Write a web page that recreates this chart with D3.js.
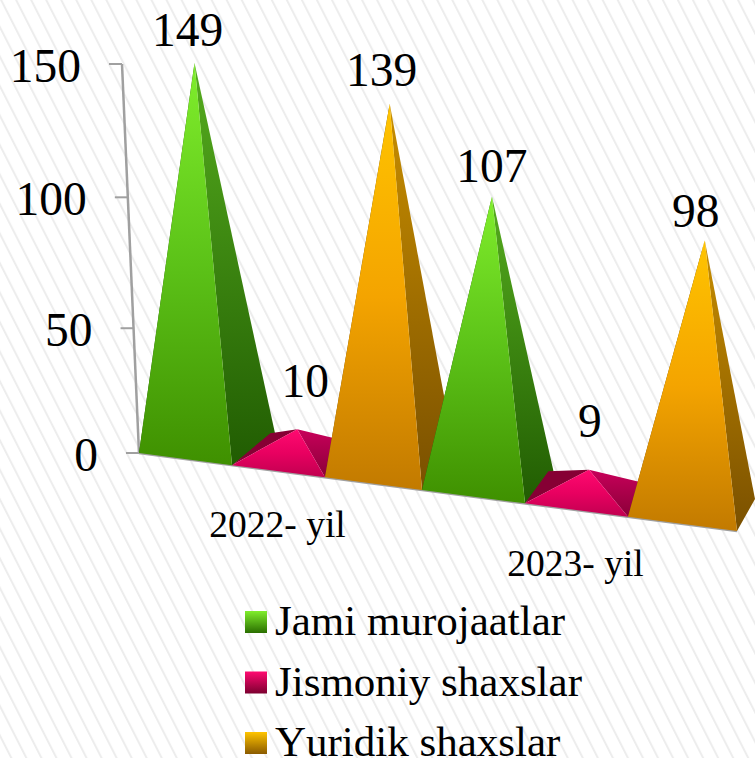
<!DOCTYPE html>
<html>
<head>
<meta charset="utf-8">
<script src="https://cdn.jsdelivr.net/npm/d3@7"></script>
<style>
  html, body { margin: 0; padding: 0; background: #fff; overflow: hidden; }
  svg { display: block; }
  text { font-family: "Liberation Serif", serif; fill: #000; }
  .legend text { font-kerning: none; }
</style>
</head>
<body>
<svg width="755" height="758"></svg>
<script>
const categories = ['2022- yil', '2023- yil']
const seriesNames = ['Jami murojaatlar', 'Jismoniy shaxslar', 'Yuridik shaxslar']
const seriesValues = [
  [149, 107],
  [10, 9],
  [139, 98],
]
const tickValues = [0, 50, 100, 150]

const palette = [
  { top: '#80ee2c', mid: '#5cc218', bottom: '#3f9000', sideTop: '#55ac1e', sideBottom: '#215c02', left: '#1d5202', legendBottom: '#2a6e00' },
  { top: '#ff0a70', mid: '#e80060', bottom: '#c00050', sideTop: '#c8005a', sideBottom: '#8a0038', left: '#860034', legendBottom: '#7c0030' },
  { top: '#ffc400', mid: '#f4a400', bottom: '#c27a00', sideTop: '#c88e00', sideBottom: '#7a5000', left: '#6e4800', legendBottom: '#8a5a00' },
]

const svg = d3.select('svg')
const defs = svg.append('defs')

// background stripes
const stripes = defs.append('pattern').
  attr('id', 'stripes').
  attr('patternUnits', 'userSpaceOnUse').
  attr('width', 13.4).
  attr('height', 13.4).
  attr('patternTransform', 'rotate(-27)')
stripes.append('rect').attr('width', 13.4).attr('height', 13.4).attr('fill', '#fff')
stripes.append('rect').attr('width', 2).attr('height', 13.4).attr('fill', '#ededed')

svg.append('rect').
  attr('width', 755).
  attr('height', 758).
  attr('fill', 'url(#stripes)')

function gradient(id, stops) {
  const g = defs.append('linearGradient').
    attr('id', id).
    attr('x1', 0).attr('y1', 0).attr('x2', 0).attr('y2', 1)
  stops.forEach((color, i) => {
    g.append('stop').attr('offset', i / (stops.length - 1)).attr('stop-color', color)
  })
}
palette.forEach((c, i) => {
  gradient(`front${i}`, [c.top, c.mid, c.bottom])
  gradient(`side${i}`, [c.sideTop, c.sideBottom])
  gradient(`legend${i}`, [c.top, c.legendBottom])
})

// floor runs downhill to the right, slots widen a little with perspective
const xSlot = d3.scaleLinear().domain([0, 2, 3, 5, 6]).range([139, 325, 422, 628, 737])
const floorY = d3.scaleLinear().domain([139, 737]).range([453, 531])
const depthX = d3.scaleLinear().domain([232, 737]).range([43, 18])
const depthY = -32
const y = d3.scalePow().exponent(1.035).domain([0, 150]).range([453, 64])
const unit = d3.scaleLinear().domain([207, 691]).range([2.55, 2.73])
// tall apexes drift away from the centre of the view
const lean = d3.scaleLinear().domain([400, 1400]).range([0, 0.17])

const bars = []
categories.forEach((cat, c) => {
  seriesNames.forEach((name, s) => {
    bars.push({ slot: c * 3 + s, series: s, value: seriesValues[s][c] })
  })
})

const labelNudge = [[-7, -17], [8, -32], [-8, -18], [0, -15], [1, -33], [-9, -13]]

function geometry(d) {
  const fl = [xSlot(d.slot), floorY(xSlot(d.slot))]
  const fr = [xSlot(d.slot + 1), floorY(xSlot(d.slot + 1))]
  const dx = depthX(fr[0])
  const br = [fr[0] + dx, fr[1] + depthY]
  const bl = [fl[0] + dx, fl[1] + depthY]
  const cx = (fl[0] + br[0]) / 2
  const cy = (fl[1] + br[1]) / 2
  const h = d.value * unit(cx)
  const apex = [cx + lean(cx) * h, cy - h]
  return { fl, fr, br, bl, apex }
}

const closed = d3.line().curve(d3.curveLinearClosed)

// axis: the wall edge leans, so the ticks follow it
const axisX = d3.scaleLinear().domain([y(0), y(150)]).range([139, 122])
const axisG = svg.append('g')
axisG.append('line').
  attr('x1', axisX(y(0))).attr('y1', y(0)).
  attr('x2', axisX(y(150))).attr('y2', y(150)).
  attr('stroke', '#a0a0a0').attr('stroke-width', 2.5)
const ticks = axisG.selectAll('g').data(tickValues).enter().append('g')
ticks.append('line').
  attr('x1', d => axisX(y(d)) - 13).attr('x2', d => axisX(y(d))).
  attr('y1', d => y(d)).attr('y2', d => y(d)).
  attr('stroke', '#a0a0a0').attr('stroke-width', 2)
ticks.append('text').
  attr('x', d => axisX(y(d)) - 41).
  attr('y', d => y(d) + 18).
  attr('text-anchor', 'end').
  attr('font-size', 47.5).
  text(d => d)

// floor edge
svg.append('line').
  attr('x1', xSlot(0)).attr('y1', floorY(xSlot(0))).
  attr('x2', xSlot(6)).attr('y2', floorY(xSlot(6))).
  attr('stroke', '#a0a0a0').attr('stroke-width', 2.5)

// pyramids, painted left to right
const barG = svg.selectAll('g.bar').data(bars).enter().append('g').attr('class', 'bar')
barG.append('path').
  attr('d', d => { const g = geometry(d); return closed([g.fl, g.bl, g.apex]) }).
  attr('fill', d => palette[d.series].left)
barG.append('path').
  attr('d', d => { const g = geometry(d); return closed([g.fr, g.br, g.apex]) }).
  attr('fill', d => `url(#side${d.series})`)
barG.append('path').
  attr('d', d => { const g = geometry(d); return closed([g.fl, g.fr, g.apex]) }).
  attr('fill', d => `url(#front${d.series})`)

svg.selectAll('text.value').data(bars).enter().append('text').
  attr('class', 'value').
  attr('x', (d, i) => geometry(d).apex[0] + labelNudge[i][0]).
  attr('y', (d, i) => geometry(d).apex[1] + labelNudge[i][1]).
  attr('text-anchor', 'middle').
  attr('font-size', 47.5).
  text(d => d.value)

svg.selectAll('text.cat').data(categories).enter().append('text').
  attr('class', 'cat').
  attr('x', (d, i) => xSlot(i * 3 + 1.5) - 1).
  attr('y', (d, i) => floorY(xSlot(i * 3 + 1.5)) + 66).
  attr('text-anchor', 'middle').
  attr('font-size', 37.5).
  text(d => d)

const legendY = d3.scalePoint().domain(seriesNames).range([622, 743])
const legend = svg.selectAll('g.legend').data(seriesNames).enter().append('g').
  attr('class', 'legend').
  attr('transform', d => `translate(245,${legendY(d)})`)
legend.append('rect').
  attr('y', -11).attr('width', 22).attr('height', 22).
  attr('fill', (d, i) => `url(#legend${i})`)
legend.append('text').
  attr('x', 30).attr('y', 13).
  attr('font-size', 43).
  text(d => d)
</script>
</body>
</html>
